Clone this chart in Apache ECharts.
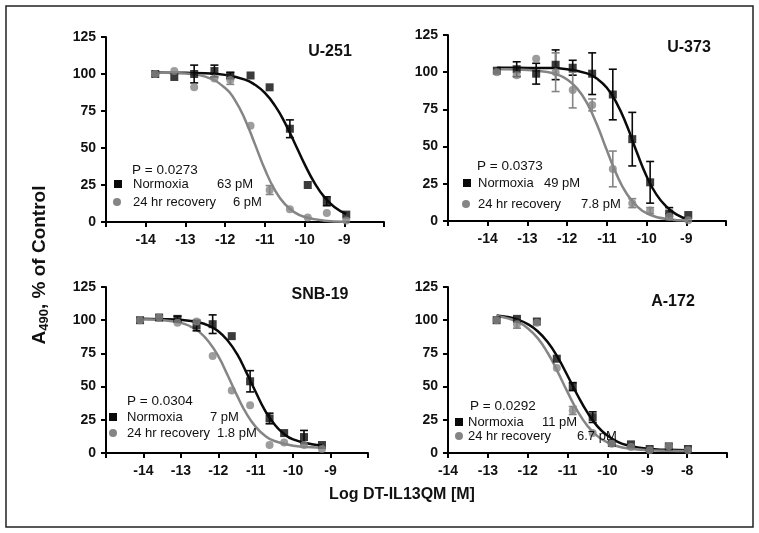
<!DOCTYPE html>
<html><head><meta charset="utf-8">
<script src="https://cdn.jsdelivr.net/npm/echarts@6/dist/echarts.min.js"></script>
<style>html,body{margin:0;padding:0;background:#fff}#c{width:759px;height:533px}</style>
</head><body><div id="c"></div>
<script>
// ---------- Tick labels ----------
const yTicks = [0, 25, 50, 75, 100, 125];
const xLabelsA = [-14, -13, -12, -11, -10, -9];      // U-251, U-373, SNB-19
const xLabelsB = [-14, -13, -12, -11, -10, -9, -8];  // A-172
const panelNames = ['U-251', 'U-373', 'SNB-19', 'A-172'];
const pValues = ['P = 0.0273', 'P = 0.0373', 'P = 0.0304', 'P = 0.0292'];
const normIC50 = ['63 pM', '49 pM', '7 pM', '11 pM'];
const recIC50 = ['6 pM', '7.8 pM', '1.8 pM', '6.7 pM'];

// ---------- U-251 ----------
const u251X = [-13.76, -13.28, -12.78, -12.27, -11.87, -11.36, -10.88, -10.37, -9.92, -9.44, -8.95];
const u251Norm = [100, 98, 100, 102, 99, 99, 91, 63, 25, 14, 5];
const u251NormErr = [0, 0, 6, 4, 2, 0, 0, 6, 0, 3, 0];
const u251Rec = [100, 102, 91, 97, 96, 65, 21.6, 8.6, 3, 6, 1];
const u251RecErr = [0, 0, 0, 0, 3, 0, 3, 0, 0, 0, 0];
const u251NormFitX = [-13.76, -13.5, -13, -12.5, -12, -11.5, -11.25, -11, -10.75, -10.5, -10.25, -10, -9.75, -9.5, -9.25, -8.95];
const u251NormFitY = [101, 100.9, 100.8, 100.5, 99.4, 96.2, 92.7, 87.2, 78.8, 67.3, 53.4, 39.1, 26.5, 16.8, 10.2, 5.4];
const u251RecFitX = [-13.76, -13.5, -13, -12.5, -12, -11.75, -11.5, -11.25, -11, -10.75, -10.5, -10.25, -10, -9.5, -9, -8.95];
const u251RecFitY = [100.9, 100.8, 100.3, 98.2, 90.6, 82.2, 69.3, 52.6, 35.6, 21.7, 12.2, 6.5, 3.4, 0.9, 0.2, 0.2];

// ---------- U-373 ----------
const u373X = [-13.77, -13.27, -12.78, -12.29, -11.86, -11.37, -10.85, -10.36, -9.91, -9.43, -8.95];
const u373Norm = [101, 102, 99, 105, 103, 99, 85, 55, 26, 5, 4];
const u373NormErr = [0, 5, 7, 10, 5, 14, 17, 18, 14, 4, 0];
const u373Rec = [100, 98, 109, 100, 88, 78, 35, 12, 7, 3, 0.5];
const u373RecErr = [0, 0, 0, 13, 12, 4, 12, 3, 2, 2, 0];
const u373NormFitX = [-13.77, -13.5, -13, -12.5, -12, -11.5, -11.25, -11, -10.75, -10.5, -10.25, -10, -9.75, -9.5, -9.25, -8.95];
const u373NormFitY = [103, 103, 102.9, 102.8, 102, 99.2, 95.7, 89.5, 79.1, 64.3, 46.5, 30.1, 17.7, 9.7, 4.5, 1];
const u373RecFitX = [-13.77, -13.5, -13, -12.5, -12.25, -12, -11.75, -11.5, -11.25, -11, -10.75, -10.5, -10.25, -10, -9.5, -8.95];
const u373RecFitY = [101.9, 101.9, 101.5, 100.2, 98.4, 95.1, 89.1, 79.2, 64.8, 47.5, 31, 18.3, 10.1, 5.3, 1.4, 0.3];

// ---------- SNB-19 ----------
const snbX = [-14.09, -13.58, -13.09, -12.58, -12.15, -11.64, -11.15, -10.63, -10.24, -9.71, -9.23];
const snbNorm = [100, 102, 101, 96, 97, 88, 54, 26, 15, 12, 6];
const snbNormErr = [0, 0, 2, 4, 7, 0, 8, 4, 0, 5, 0];
const snbRec = [100, 102, 98, 99, 73, 47, 36, 6, 8, 6, 3];
const snbRecErr = [0, 0, 0, 0, 0, 0, 0, 0, 0, 0, 0];
const snbNormFitX = [-14.09, -13.5, -13, -12.5, -12.25, -12, -11.75, -11.5, -11.25, -11, -10.75, -10.5, -10.25, -10, -9.5, -9.23];
const snbNormFitY = [101, 100.8, 100.2, 98.2, 95.8, 91.7, 84.7, 74.6, 60.7, 45.9, 31.9, 21.6, 14.5, 10.3, 6.6, 5.8];
const snbRecFitX = [-14.09, -13.5, -13, -12.75, -12.5, -12.25, -12, -11.75, -11.5, -11.25, -11, -10.75, -10.5, -10, -9.5, -9.23];
const snbRecFitY = [100.8, 100.1, 98, 95.4, 91, 83.6, 72.9, 58.6, 43.4, 29.8, 19.7, 13, 9, 5.5, 4.4, 4.2];

// ---------- A-172 ----------
const a172X = [-12.78, -12.27, -11.77, -11.27, -10.87, -10.37, -9.89, -9.41, -8.94, -8.46, -7.98];
const a172Norm = [100, 101, 99, 71, 50, 27, 7.5, 6.5, 3, 5, 3];
const a172NormErr = [0, 0, 0, 0, 3, 4, 0, 0, 0, 0, 0];
const a172Rec = [100, 97, 98, 64, 32, 15, 7, 4.5, 2, 5, 2];
const a172RecErr = [0, 3, 0, 0, 3, 0, 0, 0, 0, 0, 0];
const a172NormFitX = [-12.78, -12.5, -12.25, -12, -11.75, -11.5, -11.25, -11, -10.75, -10.5, -10.25, -10, -9.75, -9.5, -9, -8.5, -7.98];
const a172NormFitY = [103.6, 102.4, 100.4, 97.1, 91.7, 83.6, 72.2, 58.2, 43.5, 30.4, 20.1, 13.1, 8.5, 5.8, 3.2, 2.4, 2.1];
const a172RecFitX = [-12.78, -12.5, -12.25, -12, -11.75, -11.5, -11.25, -11, -10.75, -10.5, -10.25, -10, -9.75, -9.5, -9, -8.5, -7.98];
const a172RecFitY = [103.2, 101.4, 98.7, 94, 86.5, 75.5, 61.3, 45.8, 31.5, 20.4, 12.7, 8, 5.1, 3.5, 2.1, 1.7, 1.55];

// ---------- assemble ----------
const FONT = '"Liberation Sans", Arial, Helvetica, sans-serif';
const BLACK = '#0a0a0a', GREY = '#858585';

const panels = [
  {x: u251X, n: u251Norm, ne: u251NormErr, r: u251Rec, re: u251RecErr, nfx: u251NormFitX, nfy: u251NormFitY, rfx: u251RecFitX, rfy: u251RecFitY, xmin: -15, xmax: -8, labels: xLabelsA},
  {x: u373X, n: u373Norm, ne: u373NormErr, r: u373Rec, re: u373RecErr, nfx: u373NormFitX, nfy: u373NormFitY, rfx: u373RecFitX, rfy: u373RecFitY, xmin: -15, xmax: -8, labels: xLabelsA},
  {x: snbX, n: snbNorm, ne: snbNormErr, r: snbRec, re: snbRecErr, nfx: snbNormFitX, nfy: snbNormFitY, rfx: snbRecFitX, rfy: snbRecFitY, xmin: -15, xmax: -8, labels: xLabelsA},
  {x: a172X, n: a172Norm, ne: a172NormErr, r: a172Rec, re: a172RecErr, nfx: a172NormFitX, nfy: a172NormFitY, rfx: a172RecFitX, rfy: a172RecFitY, xmin: -14, xmax: -7, labels: xLabelsB}
];

const grids = [
  {left: 106, top: 37, width: 278, height: 185},
  {left: 448, top: 35, width: 278, height: 186},
  {left: 106, top: 287, width: 262, height: 166},
  {left: 448, top: 287, width: 279, height: 166}
];

const axisLineStyle = {color: '#000', width: 2};
const xAxes = [], yAxes = [], series = [];

function errRender(color) {
  return function (params, api) {
    const x = api.value(0), y = api.value(1), e = api.value(2);
    if (!e) return null;
    const t = api.coord([x, y + e]), b = api.coord([x, y - e]);
    const w = 4;
    const st = {stroke: color, lineWidth: 1.6};
    return {type: 'group', children: [
      {type: 'line', shape: {x1: t[0], y1: t[1], x2: b[0], y2: b[1]}, style: st},
      {type: 'line', shape: {x1: t[0] - w, y1: t[1], x2: t[0] + w, y2: t[1]}, style: st},
      {type: 'line', shape: {x1: b[0] - w, y1: b[1], x2: b[0] + w, y2: b[1]}, style: st}
    ]};
  };
}

panels.forEach((p, i) => {
  xAxes.push({
    gridIndex: i, type: 'value', min: p.xmin, max: p.xmax, interval: 1,
    axisLine: {show: true, onZero: false, lineStyle: axisLineStyle},
    axisTick: {show: true, length: 5, lineStyle: {color: '#000', width: 2}},
    splitLine: {show: false},
    axisLabel: {
      margin: 11, fontSize: 14, fontWeight: 'bold', color: '#111', fontFamily: FONT,
      showMinLabel: true, showMaxLabel: true,
      formatter: v => p.labels.indexOf(Math.round(v)) >= 0 ? String(Math.round(v)) : ''
    }
  });
  yAxes.push({
    gridIndex: i, type: 'value', min: 0, max: 125, interval: 25,
    axisLine: {show: true, onZero: false, lineStyle: axisLineStyle},
    axisTick: {show: true, length: 5, lineStyle: {color: '#000', width: 2}},
    splitLine: {show: false},
    axisLabel: {
      margin: 10, fontSize: 14, fontWeight: 'bold', color: '#111', fontFamily: FONT,
      formatter: v => yTicks.indexOf(v) >= 0 ? String(v) : ''
    }
  });
  series.push({
    type: 'line', xAxisIndex: i, yAxisIndex: i, showSymbol: false, smooth: true, z: 2,
    data: p.nfx.map((x, k) => [x, p.nfy[k]]),
    lineStyle: {color: BLACK, width: 2.5}
  });
  series.push({
    type: 'line', xAxisIndex: i, yAxisIndex: i, showSymbol: false, smooth: true, z: 2,
    data: p.rfx.map((x, k) => [x, p.rfy[k]]),
    lineStyle: {color: GREY, width: 2.5}
  });
  series.push({
    type: 'custom', xAxisIndex: i, yAxisIndex: i, z: 3, clip: false,
    renderItem: errRender(BLACK), encode: {x: 0, y: 1},
    data: p.x.map((x, k) => [x, p.n[k], p.ne[k]])
  });
  series.push({
    type: 'custom', xAxisIndex: i, yAxisIndex: i, z: 3, clip: false,
    renderItem: errRender(GREY), encode: {x: 0, y: 1},
    data: p.x.map((x, k) => [x, p.r[k], p.re[k]])
  });
  series.push({
    type: 'scatter', xAxisIndex: i, yAxisIndex: i, z: 4, symbol: 'rect', symbolSize: 8,
    itemStyle: {color: BLACK},
    data: p.x.map((x, k) => [x, p.n[k]])
  });
  series.push({
    type: 'scatter', xAxisIndex: i, yAxisIndex: i, z: 5, symbol: 'circle', symbolSize: 8,
    itemStyle: {color: GREY},
    data: p.x.map((x, k) => [x, p.r[k]])
  });
});

// ---------- annotation layout ----------
const titlePos = [[330, 52], [689, 48], [320, 295], [673, 302]];
const legendPos = [
  {p: [132, 170], sq: [118, 184], ci: [117, 202], tx: 133, n2: 217, r2: 233, ny: 184, ry: 202},
  {p: [477, 166], sq: [467, 183], ci: [466, 204], tx: 478, n2: 544, r2: 581, ny: 183, ry: 204},
  {p: [127, 401], sq: [113, 417], ci: [113, 433], tx: 127, n2: 210, r2: 217, ny: 417, ry: 433},
  {p: [470, 406], sq: [459, 422], ci: [459, 436], tx: 468, n2: 542, r2: 577, ny: 422, ry: 436}
];

const graphics = [];
graphics.push({type: 'rect', shape: {x: 6, y: 6, width: 747, height: 521}, style: {fill: 'none', stroke: '#222', lineWidth: 1.5}, z: 0});
const txt = (x, y, text, o = {}) => ({
  type: 'text', x, y, z: 10,
  style: Object.assign({text, font: (o.bold ? 'bold ' : '') + (o.size || 13) + 'px ' + FONT, fill: o.fill || '#111',
    textAlign: o.align || 'left', textVerticalAlign: 'middle'}, o.extra || {})
});
panelNames.forEach((t, i) => {
  graphics.push(txt(titlePos[i][0], titlePos[i][1], t, {bold: true, size: 16, align: 'center'}));
  const L = legendPos[i];
  graphics.push(txt(L.p[0], L.p[1], pValues[i], {size: 13.5}));
  graphics.push({type: 'rect', z: 10, shape: {x: L.sq[0] - 4, y: L.sq[1] - 4, width: 8, height: 8}, style: {fill: BLACK}});
  graphics.push({type: 'circle', z: 10, shape: {cx: L.ci[0], cy: L.ci[1], r: 4}, style: {fill: GREY}});
  graphics.push(txt(L.tx, L.ny, 'Normoxia'));
  graphics.push(txt(L.n2, L.ny, normIC50[i]));
  graphics.push(txt(L.tx, L.ry, '24 hr recovery'));
  graphics.push(txt(L.r2, L.ry, recIC50[i]));
});
graphics.push(txt(402, 495, 'Log DT-IL13QM [M]', {bold: true, size: 16, align: 'center'}));
graphics.push({
  type: 'text', x: 40, y: 265, rotation: Math.PI / 2, z: 10,
  style: {
    text: '{a|A}{s|490}{a|, % of Control}',
    textAlign: 'center', textVerticalAlign: 'middle',
    rich: {
      a: {font: 'bold 19px ' + FONT, fill: '#111', fontWeight: 'bold', fontSize: 19, fontFamily: FONT, color: '#111'},
      s: {font: 'bold 13px ' + FONT, fill: '#111', fontWeight: 'bold', fontSize: 13, fontFamily: FONT, color: '#111', padding: [9, 0, 0, 0]}
    }
  }
});

const chart = echarts.init(document.getElementById('c'), null, {renderer: 'canvas'});
chart.setOption({
  animation: false,
  backgroundColor: '#fff',
  grid: grids,
  xAxis: xAxes,
  yAxis: yAxes,
  series: series,
  graphic: graphics
});
</script></body></html>
